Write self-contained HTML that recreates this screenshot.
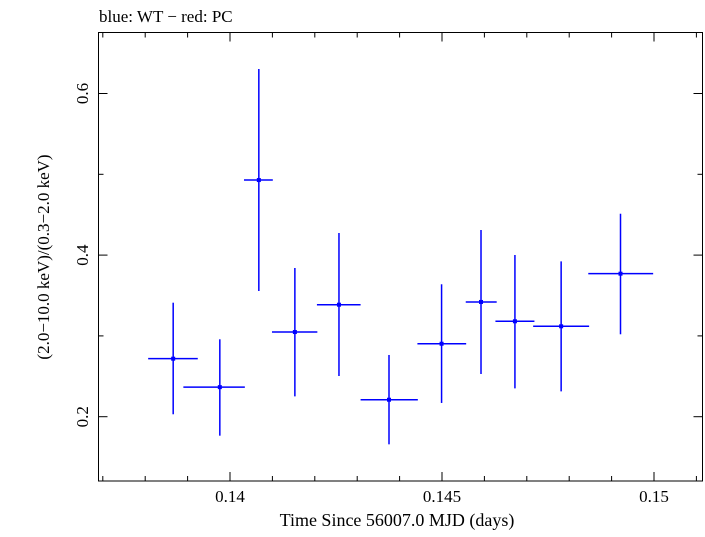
<!DOCTYPE html>
<html><head><meta charset="utf-8"><style>
body{margin:0;background:#fff}
svg text{font-family:"Liberation Serif",serif;fill:#000}
</style></head><body>
<svg id="chart" width="705" height="532" viewBox="0 0 705 532" xmlns="http://www.w3.org/2000/svg">
<text x="99" y="22" font-size="17">blue: WT − red: PC</text>
<rect x="98.5" y="32.5" width="604" height="448.5" fill="none" stroke="#000" stroke-width="1"/>
<g id="axes"></g>
<g id="marks"></g>
<text x="397" y="526" font-size="18" text-anchor="middle">Time Since 56007.0 MJD (days)</text>
<text transform="translate(49,257) rotate(-90)" font-size="17" text-anchor="middle">(2.0−10.0 keV)/(0.3−2.0 keV)</text>
</svg>
<script>
const times=[0.13866,0.13976,0.14068,0.14153,0.14257,0.14375,0.14499,0.14592,0.14672,0.14781,0.14921];
const timeLo=[0.13807,0.13890,0.14033,0.14099,0.14205,0.14308,0.14442,0.14556,0.14626,0.14715,0.14845];
const timeHi=[0.13924,0.14035,0.14101,0.14206,0.14308,0.14443,0.14557,0.14629,0.14718,0.14847,0.14998];
const ratios=[0.2718,0.2366,0.4929,0.3048,0.3386,0.2210,0.2903,0.3420,0.3181,0.3119,0.3770];
const ratioLo=[0.2030,0.1765,0.3556,0.2252,0.2504,0.1658,0.2170,0.2528,0.2351,0.2314,0.3020];
const ratioHi=[0.3411,0.2958,0.6303,0.3840,0.4273,0.2764,0.3639,0.4311,0.4001,0.3923,0.4512];
const xTickLabels=["0.14","0.145","0.15"];
const yTickLabels=["0.2","0.4","0.6"];
const X=t=>230+(t-0.14)*42400;
const Y=v=>416.7-(v-0.2)*808;
const NS="http://www.w3.org/2000/svg";
const axes=document.getElementById('axes'), marks=document.getElementById('marks');
function ln(p,x1,y1,x2,y2,c,w){const l=document.createElementNS(NS,'line');l.setAttribute('x1',x1);l.setAttribute('y1',y1);l.setAttribute('x2',x2);l.setAttribute('y2',y2);l.setAttribute('stroke',c);l.setAttribute('stroke-width',w);p.appendChild(l);return l;}
for(let i=137;i<=151;i++){const t=i/1000;const x=X(t);const major=(i%5===0);const L=major?9:5;
const a=ln(axes,x,481,x,481-L,'#000',1);


const b=ln(axes,x,32.5,x,32.5+L,'#000',1);

}
xTickLabels.forEach(s=>{const t=document.createElementNS(NS,'text');t.setAttribute('x',X(parseFloat(s)));t.setAttribute('y',502);t.setAttribute('font-size','17');t.setAttribute('text-anchor','middle');t.textContent=s;


axes.appendChild(t);});
for(let i=2;i<=6;i++){const v=i/10;const y=Y(v);const major=(i%2===0);const L=major?9:5;
const a=ln(axes,98.5,y,98.5+L,y,'#000',1);


const b=ln(axes,702.5,y,702.5-L,y,'#000',1);

}
yTickLabels.forEach(s=>{const y=Y(parseFloat(s));const t=document.createElementNS(NS,'text');t.setAttribute('transform','translate(88,'+y+') rotate(-90)');t.setAttribute('font-size','17');t.setAttribute('text-anchor','middle');t.textContent=s;


axes.appendChild(t);});
times.forEach((t,i)=>{const g=document.createElementNS(NS,'g');


ln(g,X(timeLo[i]),Y(ratios[i]),X(timeHi[i]),Y(ratios[i]),'#0000ff',1.5);
ln(g,X(t),Y(ratioLo[i]),X(t),Y(ratioHi[i]),'#0000ff',1.5);
const r=document.createElementNS(NS,'rect');r.setAttribute('x',X(t)-2);r.setAttribute('y',Y(ratios[i])-2);r.setAttribute('width',4);r.setAttribute('height',4);r.setAttribute('fill','#0000ff');g.appendChild(r);
marks.appendChild(g);});
</script>
</body></html>
